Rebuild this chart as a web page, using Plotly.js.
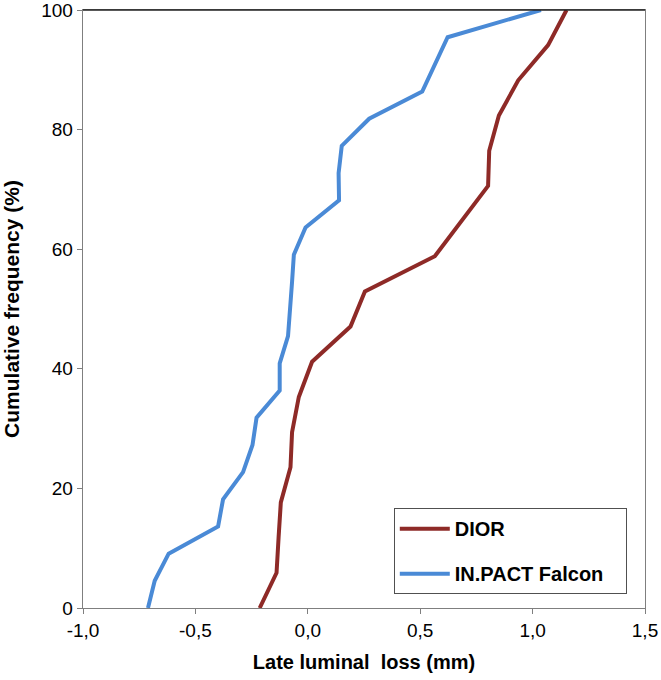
<!DOCTYPE html>
<html>
<head>
<meta charset="utf-8">
<script src="https://cdn.plot.ly/plotly-3.0.1.min.js"></script>
<style>html,body{margin:0;padding:0;background:#fff;}#chart{width:661px;height:680px;}</style>
</head>
<body>
<div id="chart"></div>
<script>
// DIOR series
const diorLoss = [-0.214, -0.139, -0.130, -0.120, -0.077, -0.070, -0.040, 0.019, 0.190, 0.254, 0.565, 0.684, 0.802, 0.807, 0.850, 0.936, 1.069, 1.151];
const diorFreq = [0, 5.88, 11.76, 17.65, 23.53, 29.41, 35.29, 41.18, 47.06, 52.94, 58.82, 64.71, 70.59, 76.47, 82.35, 88.24, 94.12, 100];
// IN.PACT Falcon series
const falconLoss = [-0.711, -0.681, -0.619, -0.399, -0.377, -0.288, -0.246, -0.228, -0.125, -0.125, -0.088, -0.077, -0.070, -0.062, -0.010, 0.139, 0.137, 0.151, 0.273, 0.509, 0.565, 0.622, 1.037];
const falconFreq = [0, 4.55, 9.09, 13.64, 18.18, 22.73, 27.27, 31.82, 36.36, 40.91, 45.45, 50, 54.55, 59.09, 63.64, 68.18, 72.73, 77.27, 81.82, 86.36, 90.91, 95.45, 100];
const seriesNames = ['DIOR', 'IN.PACT Falcon'];
const xTicks = [-1.0, -0.5, 0.0, 0.5, 1.0, 1.5];
const xTickText = ['-1,0', '-0,5', '0,0', '0,5', '1,0', '1,5'];
const yTicks = [0, 20, 40, 60, 80, 100];
const yTickText = ['0', '20', '40', '60', '80', '100'];

const traces = [
  {x: diorLoss, y: diorFreq, mode: 'lines', name: seriesNames[0], legendgroup: 'a',
   line: {color: '#8E2A27', width: 4}},
  {x: falconLoss, y: falconFreq, mode: 'lines', name: seriesNames[1] + '\u00a0\u00a0\u00a0', legendgroup: 'b',
   line: {color: '#4A8AD6', width: 4}}
];

const fam = 'Liberation Sans, Arial, sans-serif';
const tickFont = {family: fam, size: 19, color: '#000'};
const titleFont = {family: fam, size: 20, color: '#000'};
const layout = {
  width: 661, height: 680,
  margin: {l: 83, r: 16, t: 10, b: 72},
  paper_bgcolor: '#fff', plot_bgcolor: '#fff',
  showlegend: true,
  xaxis: {
    range: [-1, 1.5], tickvals: xTicks, ticktext: xTickText,
    showgrid: false, zeroline: false,
    showline: true, linecolor: '#7f7f7f', linewidth: 1.3, mirror: true,
    ticks: 'outside', ticklen: 5, tickcolor: '#7f7f7f',
    tickfont: tickFont, ticklabeloverflow: 'allow',
    title: {text: '<b>Late luminal  loss (mm)</b>', font: titleFont, standoff: 15}
  },
  yaxis: {
    range: [0, 100], tickvals: yTicks, ticktext: yTickText,
    showgrid: false, zeroline: false,
    showline: true, linecolor: '#7f7f7f', linewidth: 1.3, mirror: true,
    ticks: 'outside', ticklen: 5, tickcolor: '#7f7f7f',
    tickfont: tickFont, ticklabeloverflow: 'allow',
    title: {text: '<b>Cumulative frequency (%)</b>', font: {family: fam, size: 21, color: '#000'}, standoff: 22}
  },
  legend: {
    x: 0.553, y: 0.167, xanchor: 'left', yanchor: 'top',
    bgcolor: '#fff', bordercolor: '#505050', borderwidth: 1,
    font: {family: fam, size: 20, color: '#000', weight: 'bold'},
    traceorder: 'grouped', tracegroupgap: 16, itemwidth: 50
  },
  shapes: [
    {type: 'line', xref: 'paper', yref: 'paper', x0: 0, x1: 1, y0: 1, y1: 1,
     line: {color: '#222', width: 1.5}}
  ]
};

Plotly.newPlot('chart', traces, layout, {displayModeBar: false, staticPlot: true});
</script>
</body>
</html>
